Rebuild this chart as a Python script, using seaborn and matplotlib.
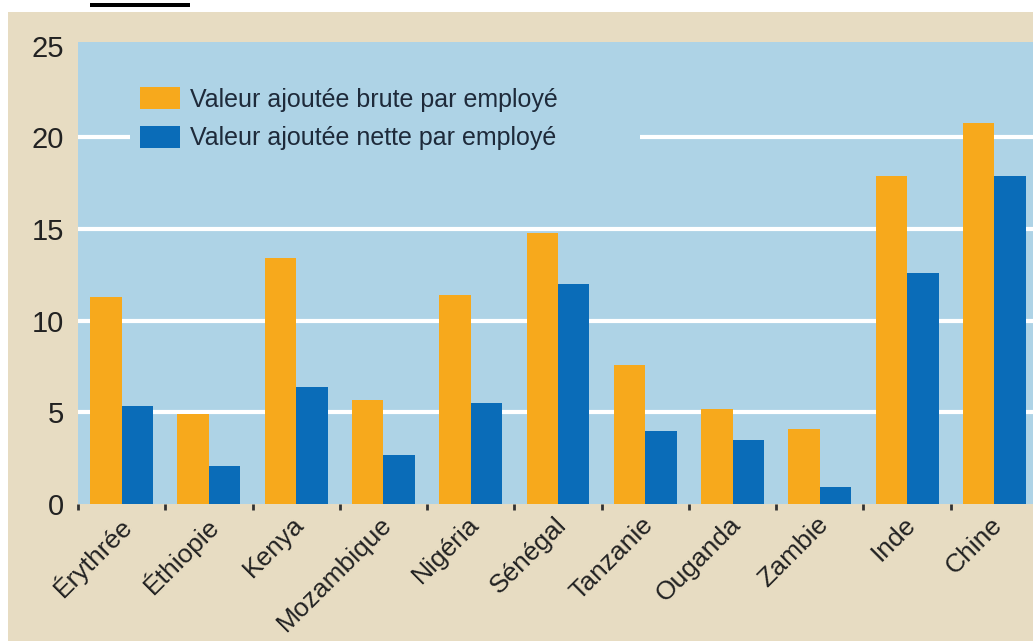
import matplotlib
matplotlib.use("Agg")
import matplotlib.pyplot as plt
from matplotlib.patches import Rectangle
from matplotlib.transforms import ScaledTranslation
import seaborn as sns
import pandas as pd

pays = ["Érythrée", "Éthiopie", "Kenya", "Mozambique", "Nigéria", "Sénégal",
        "Tanzanie", "Ouganda", "Zambie", "Inde", "Chine"]
brute = [11.3, 4.9, 13.4, 5.7, 11.4, 14.8, 7.6, 5.2, 4.1, 17.9, 20.8]
nette = [5.35, 2.1, 6.4, 2.7, 5.5, 12.0, 4.0, 3.5, 0.95, 12.6, 17.9]
serie_brute = "Valeur ajoutée brute par employé"
serie_nette = "Valeur ajoutée nette par employé"
yticks = [0, 5, 10, 15, 20, 25]

ORANGE = "#F7A91C"
BLUE = "#0A6CB8"
PLOTBG = "#AED3E6"
BEIGE = "#E7DCC2"

df = pd.DataFrame({
    "pays": pays * 2,
    "valeur": brute + nette,
    "serie": [serie_brute] * len(pays) + [serie_nette] * len(pays),
})

sns.set_theme(style="white")
plt.rcParams["font.family"] = ["Liberation Sans", "DejaVu Sans"]

W, H = 1033, 643
fig = plt.figure(figsize=(W / 100, H / 100), dpi=100)
fig.patch.set_facecolor("white")
fig.patches.append(Rectangle((8 / W, 2 / H), (W - 8) / W, (641 - 12) / H,
                             transform=fig.transFigure, facecolor=BEIGE,
                             edgecolor="none", zorder=-10))
# underline fragment of cut-off caption
fig.patches.append(Rectangle((90 / W, (643 - 7) / H), 100 / W, 4 / H,
                             transform=fig.transFigure, facecolor="black",
                             edgecolor="none", zorder=-9))

ax = fig.add_axes([78 / W, (643 - 504) / H, 960 / W, 462 / H])
ax.set_zorder(1)
ax.set_facecolor(PLOTBG)

sns.barplot(data=df, x="pays", y="valeur", hue="serie",
            palette=[ORANGE, BLUE], width=0.72, gap=0, saturation=1,
            linewidth=0, edgecolor="none", ax=ax, zorder=3)

ax.set_xlim(-0.5, len(pays) - 0.5)
ax.set_ylim(0, 25.2)
ax.set_yticks(yticks)
ax.set_yticklabels([str(v) for v in yticks], fontsize=21, color="#222222")
for v in yticks[1:-1]:
    ax.axhline(v, color="white", linewidth=3.0, zorder=1)

ax.set_xlabel("")
ax.set_ylabel("")
for s in ax.spines.values():
    s.set_visible(False)

ax.set_xticks(range(len(pays)))
ax.set_xticks([i - 0.5 for i in range(len(pays) + 1)], minor=True)
ax.tick_params(axis="x", which="major", bottom=True, length=0, pad=6)
ax.tick_params(axis="x", which="minor", bottom=True, length=4, width=2,
               color="#333333", direction="out")
ax.tick_params(axis="y", length=0, pad=10)
ax.set_xticklabels(pays, rotation=45, ha="right", rotation_mode="anchor",
                   fontsize=19, color="#222222")
off = ScaledTranslation(-4 / 100, 0, fig.dpi_scale_trans)
for lab in ax.get_xticklabels():
    lab.set_transform(lab.get_transform() + off)

leg = ax.legend(loc="upper left", bbox_to_anchor=(0.054, 0.0, 0.531, 0.924),
                mode="expand",
                frameon=True, facecolor=PLOTBG, edgecolor="none", framealpha=1,
                fontsize=18, handlelength=1.6, handleheight=1.0,
                labelspacing=0.55, handletextpad=0.4, borderpad=0.4,
                borderaxespad=0)
leg.get_frame().set_boxstyle("square", pad=0)
for t in leg.get_texts():
    t.set_color("#1E2A3A")
leg.set_zorder(5)

fig.savefig("out.png", dpi=100, facecolor=fig.get_facecolor())
